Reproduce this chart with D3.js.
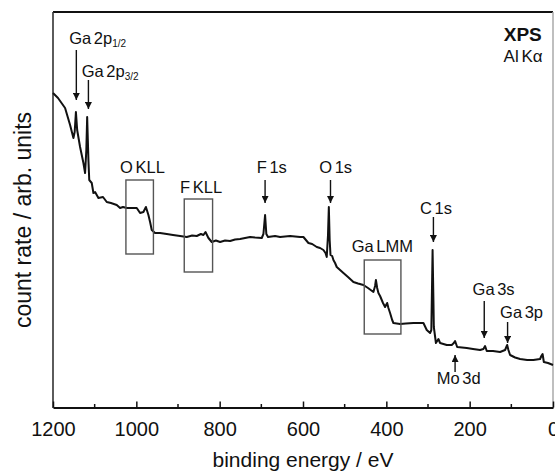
<!DOCTYPE html>
<html><head><meta charset="utf-8">
<script src="https://cdn.jsdelivr.net/npm/d3@7"></script>
<style>
html,body{margin:0;padding:0;background:#fff;}
svg{display:block;font-family:"Liberation Sans",Arial,Helvetica,sans-serif;}
</style></head>
<body>
<svg id="chart" width="555" height="473"></svg>
<script>
// ---- data ----
const energy = [1200,1188,1171,1159,1151,1148,1145,1142,1135,1127,1123,1120,1118,1115,1113,1107,1103,1099,1091,1080,1071,1061,1047,1039,1032,1023,1013,999,991,983,977,971,967,963,955,943,927,912,895,879,866,855,845,839,834,827,819,809,799,787,775,763,751,739,727,715,699,695,691,688,684,667,655,631,607,599,593,587,578,567,559,551,546,543,540,538,536,534,530,527,523,519,511,503,492,479,468,455,444,431,427,425,422,419,415,408,403,398,395,391,386,383,367,353,335,319,311,303,295,292,289,287,286,281,275,271,255,243,238,235,230,207,192,175,167,163,159,144,127,115,112,110,107,103,91,79,62,47,31,28,25,22,12,0];
const counts = [315,310,300,283,270,276,296,278,261,245,235,258,291,248,228,225,215,216,210,211,206,205,203,200,201,200,200,200,195,196,201,193,186,178,175,175,174,173,172,171,172.5,172,174,173,176,170,166,167.5,166,167.5,167,168.5,169,170,171,170.5,170,174,193,174,171,172,171,172,171,171,168,165,164,161,160,158,155,151,173,201,168,153,152,148,145,141,138,135,131,126,124.5,123,120,116,122,128,120,115,112,105,101,105,100,95,88,85,84,84.5,85,85,85,78,75,78,158,108,81,65,69,65,63,63,65,67,61,60,59,58,59,62,57,57,56,58,61,63,58,53,50.5,49,48,48,49,52,54,46,45,43];

const xTicksMajor = [1200,1000,800,600,400,200,0];
const xTicksMinor = [1100,900,700,500,300,100];

// peak annotations: label, subscript, label energy/count (left, baseline), arrow energy, arrow from/to counts
const peakLabels   = ["Ga 2p","Ga 2p","F 1s","O 1s","C 1s","Ga 3s","Ga 3p","Mo 3d"];
const peakSubs     = ["1/2","3/2","","","","","",""];
const peakLabelE   = [1161,1131,711,561,319,193,127,279];
const peakLabelV   = [364.5,330.7,234.7,234.7,193.7,113,89.7,24];
const peakArrowE   = [1144,1115,691,534,287,165,109,235];
const peakArrowV0  = [358,328,228,228,191,107,86,36];
const peakArrowV1  = [308,299,205,205,166,70,65,53];

// Auger regions: boxes
const augerLabels  = ["O KLL","F KLL","Ga LMM"];
const augerLabelE  = [1039,895,483];
const augerLabelV  = [234.7,215.3,156.3];
const augerE0      = [1025,885,453];
const augerE1      = [959,817,365];
const augerV0      = [228,209,148];
const augerV1      = [154,136,74];

// ---- chart ----
const svg = d3.select("#chart");
const x = d3.scaleLinear().domain([1200,0]).range([53,553]);
const y = d3.scaleLinear().domain([0,396]).range([408,12]);
const ink = "#111";

svg.append("defs").append("marker")
  .attr("id","ah").attr("viewBox","0 0 10 10").attr("refX",10).attr("refY",5)
  .attr("markerWidth",7).attr("markerHeight",7).attr("markerUnits","userSpaceOnUse")
  .attr("orient","auto")
  .append("path").attr("d","M0,0 L10,5 L0,10 z").attr("fill",ink);

// frame
svg.append("line").attr("x1",53).attr("x2",553).attr("y1",12).attr("y2",12).attr("stroke",ink).attr("stroke-width",2);
svg.append("line").attr("x1",53).attr("x2",53).attr("y1",12).attr("y2",408).attr("stroke","#333").attr("stroke-width",1.6);
svg.append("line").attr("x1",553).attr("x2",553).attr("y1",12).attr("y2",408).attr("stroke","#aaa").attr("stroke-width",1.5);

// bottom axis
const axis = d3.axisBottom(x).tickValues(xTicksMajor).tickSizeInner(-6).tickSizeOuter(0).tickPadding(14).tickFormat(d3.format("d"));
const gx = svg.append("g").attr("transform","translate(0,407.5)").call(axis);
gx.select(".domain").attr("stroke",ink).attr("stroke-width",1.8);
gx.selectAll(".tick line").attr("stroke",ink).attr("stroke-width",1.5);
gx.selectAll(".tick text").attr("fill",ink).attr("font-size",20).attr("font-family","Liberation Sans, Arial, sans-serif");
gx.selectAll(".minor").data(xTicksMinor).enter().append("line")
  .attr("x1",d=>x(d)).attr("x2",d=>x(d)).attr("y1",0).attr("y2",-3.5).attr("stroke",ink).attr("stroke-width",1.5);

// axis titles
svg.append("text").attr("x",303).attr("y",467).attr("text-anchor","middle")
  .attr("font-size",21).attr("fill",ink).text("binding energy / eV");
svg.append("text").attr("transform","translate(31,220) rotate(-90)").attr("text-anchor","middle")
  .attr("font-size",23).attr("fill",ink).text("count rate / arb. units");

// spectrum
const pts = energy.map((e,i)=>[e,counts[i]]);
svg.append("path").datum(pts)
  .attr("d", d3.line().x(d=>x(d[0])).y(d=>y(d[1])))
  .attr("fill","none").attr("stroke",ink).attr("stroke-width",2).attr("stroke-linejoin","round");

// auger boxes
augerLabels.forEach((t,i)=>{
  svg.append("rect").attr("x",x(augerE0[i])).attr("y",y(augerV0[i]))
    .attr("width",x(augerE1[i])-x(augerE0[i])).attr("height",y(augerV1[i])-y(augerV0[i]))
    .attr("fill","none").attr("stroke","#555").attr("stroke-width",1.4);
  svg.append("text").attr("x",x(augerLabelE[i])).attr("y",y(augerLabelV[i]))
    .attr("font-size",16.5).attr("fill",ink).style("word-spacing","-2px").text(t);
});

// peak labels + arrows
peakLabels.forEach((t,i)=>{
  const tx = svg.append("text").attr("x",x(peakLabelE[i])).attr("y",y(peakLabelV[i]))
    .attr("font-size",16.5).attr("fill",ink).style("word-spacing","-2px");
  tx.append("tspan").text(t);
  if (peakSubs[i]) tx.append("tspan").attr("font-size",10).attr("dy",3).text(peakSubs[i]);
  svg.append("line").attr("x1",x(peakArrowE[i])).attr("x2",x(peakArrowE[i]))
    .attr("y1",y(peakArrowV0[i])).attr("y2",y(peakArrowV1[i]))
    .attr("stroke",ink).attr("stroke-width",1.4).attr("marker-end","url(#ah)");
});

// source label
svg.append("text").attr("x",x(27)).attr("y",y(367.3)).attr("text-anchor","end")
  .attr("font-size",19).attr("font-weight","bold").attr("fill",ink).text("XPS");
svg.append("text").attr("x",x(25)).attr("y",y(345.7)).attr("text-anchor","end")
  .attr("font-size",17).attr("fill",ink).style("word-spacing","-2px").text("Al Kα");
</script>
</body></html>
